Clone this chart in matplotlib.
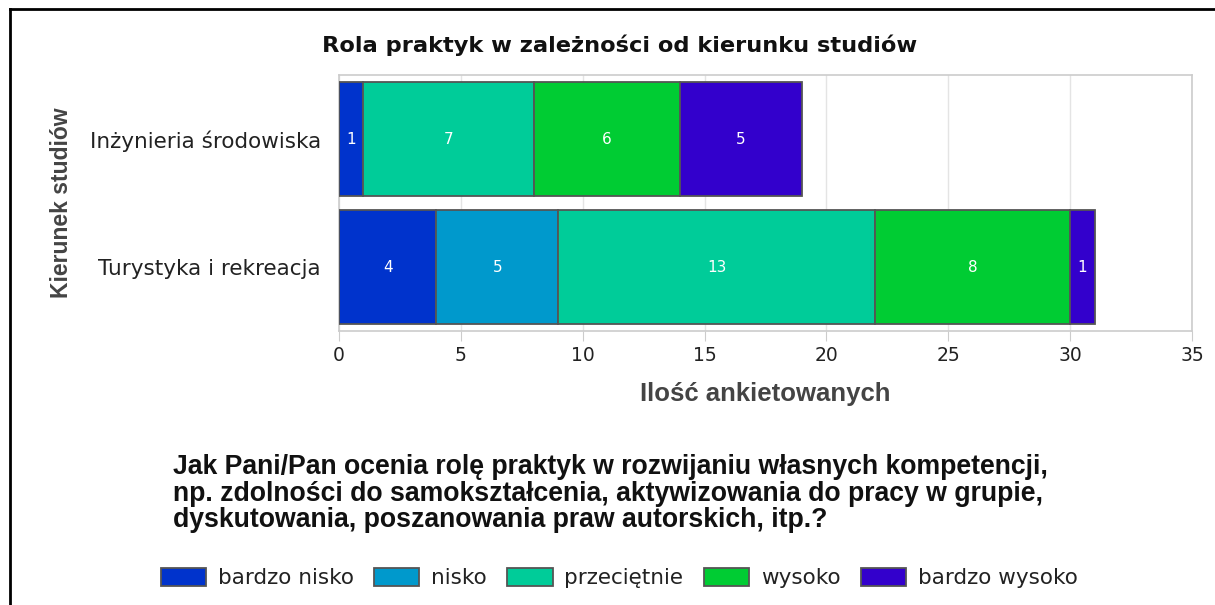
import matplotlib
matplotlib.use("Agg")
import matplotlib.pyplot as plt
import numpy as np
from matplotlib.lines import Line2D

# dane
kierunki = ["Inżynieria środowiska", "Turystyka i rekreacja"]
oceny = ["bardzo nisko", "nisko", "przeciętnie", "wysoko", "bardzo wysoko"]
bardzo_nisko = [1, 4]
nisko = [0, 5]
przecietnie = [7, 13]
wysoko = [6, 8]
bardzo_wysoko = [5, 1]
kolory = ["#0033CC", "#0099CC", "#00CC99", "#00CC33", "#3300CC"]

tytul = "Rola praktyk w zależności od kierunku studiów"
pytanie = ("Jak Pani/Pan ocenia rolę praktyk w rozwijaniu własnych kompetencji,\n"
           "np. zdolności do samokształcenia, aktywizowania do pracy w grupie,\n"
           "dyskutowania, poszanowania praw autorskich, itp.?")

W, H = 1215, 605
fig = plt.figure(figsize=(W / 100, H / 100), dpi=100)
ax = fig.add_axes([339 / W, 1 - 331 / H, (1192 - 339) / W, (331 - 75) / H])

y = np.arange(len(kierunki))
lewo = np.zeros(len(kierunki))
for seria, kolor, nazwa in zip([bardzo_nisko, nisko, przecietnie, wysoko, bardzo_wysoko], kolory, oceny):
    wart = np.array(seria, dtype=float)
    bars = ax.barh(y, wart, left=lewo, height=0.89, color=kolor, edgecolor="#555555",
                   linewidth=1.3, label=nazwa, zorder=3)
    for b, v in zip(bars, wart):
        if v > 0:
            ax.text(b.get_x() + b.get_width() / 2, b.get_y() + b.get_height() / 2, f"{int(v)}",
                    ha="center", va="center", color="white", fontsize=11, zorder=4)
    lewo += wart

ax.set_xlim(0, 35)
ax.set_ylim(1.5, -0.5)
ax.set_xticks(np.arange(0, 36, 5))
ax.set_yticks(y)
ax.set_yticklabels(kierunki, fontsize=15.5, color="#222222")
ax.tick_params(axis="x", labelsize=13.5, colors="#222222", direction="out", length=7, color="#cccccc", pad=4)
ax.tick_params(axis="y", length=0, pad=13)
ax.grid(axis="x", color="#e4e4e4", linewidth=1, zorder=0)
for s in ax.spines.values():
    s.set_color("#cccccc")
    s.set_linewidth(1.2)

ax.set_xlabel("Ilość ankietowanych", fontsize=18.5, fontweight="bold", color="#444444",
              family="Liberation Sans")
ax.xaxis.set_label_coords(0.5, -0.2)
ax.set_ylabel("Kierunek studiów", fontsize=16.5, fontweight="bold", color="#444444",
              family="Liberation Sans")
ax.yaxis.set_label_coords(-0.312, 0.5)

fig.text(620 / W, 1 - 45 / H, tytul, ha="center", va="center", fontsize=16.2, fontweight="bold",
         color="#111111")
fig.text(173 / W, 1 - 454 / H, pytanie, ha="left", va="top", fontsize=19.2, fontweight="bold",
         family="Liberation Sans", linespacing=1.03, color="#111111")

uchwyty, etykiety = ax.get_legend_handles_labels()
leg = fig.legend(uchwyty, etykiety, loc="center left", bbox_to_anchor=(152 / W, 1 - 578 / H),
                 ncol=5, frameon=False, fontsize=15.5, handlelength=2.1, handleheight=0.95,
                 handletextpad=0.55, columnspacing=0.95, borderaxespad=0)
for t in leg.get_texts():
    t.set_color("#222222")

# ramka
fig.add_artist(Line2D([10 / W, 1], [1 - 9 / H, 1 - 9 / H], transform=fig.transFigure, color="black", lw=2))
fig.add_artist(Line2D([10 / W, 10 / W], [0, 1 - 9 / H], transform=fig.transFigure, color="black", lw=2))

fig.savefig("out.png", dpi=100)
